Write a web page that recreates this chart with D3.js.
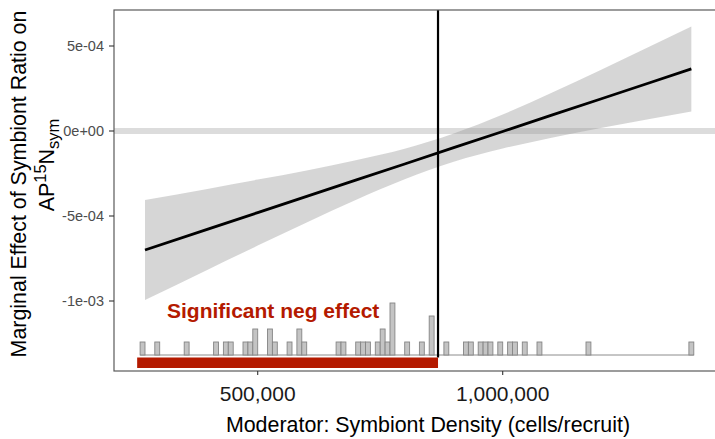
<!DOCTYPE html>
<html>
<head>
<meta charset="utf-8">
<script src="https://cdn.jsdelivr.net/npm/d3@7"></script>
<style>
	body { margin: 0; background: #fff; }
	text { font-family: 'Liberation Sans', Arial, Helvetica, sans-serif; }
</style>
</head>
<body>
<div class="chart"></div>
<script>
/*  ======== Data ============= */
var xTicks = [500000, 1000000];
var yTicks = [5e-4, 0, -5e-4, -1e-3];
var yTickLabels = ['5e-04', '0e+00', '-5e-04', '-1e-03'];

var fitX = [270000, 400000, 500000, 600000, 700000, 800000, 900000, 1000000, 1100000, 1200000, 1300000, 1385000];
var fitY = [-7.00e-4, -5.76e-4, -4.80e-4, -3.85e-4, -2.89e-4, -1.94e-4, -0.98e-4, -0.03e-4, 0.93e-4, 1.88e-4, 2.84e-4, 3.65e-4];
var ciUpper = [-4.06e-4, -3.39e-4, -2.86e-4, -2.32e-4, -1.72e-4, -1.04e-4, -0.15e-4, 0.97e-4, 2.25e-4, 3.59e-4, 4.97e-4, 6.15e-4];
var ciLower = [-9.94e-4, -8.13e-4, -6.74e-4, -5.38e-4, -4.06e-4, -2.84e-4, -1.81e-4, -1.03e-4, -0.39e-4, 0.17e-4, 0.71e-4, 1.15e-4];

var binWidth = 10000;
var binStart = [260000, 290000, 350000, 410000, 430000, 440000, 470000, 480000, 490000, 520000,
				530000, 560000, 580000, 590000, 660000, 670000, 700000, 710000, 720000, 740000,
				750000, 760000, 770000, 800000, 830000, 850000, 880000, 920000, 930000, 950000,
				960000, 970000, 990000, 1010000, 1020000, 1040000, 1070000, 1170000, 1380000];
var binCount = [1, 1, 1, 1, 1, 1, 1, 1, 2, 2,
				1, 1, 2, 1, 1, 1, 1, 1, 1, 1,
				2, 1, 4, 1, 1, 3, 1, 1, 1, 1,
				1, 1, 1, 1, 1, 1, 1, 1, 1];

var threshold = 868000;
var sigRange = [254000, 868000];
var sigLabel = 'Significant neg effect';
var xTitle = 'Moderator: Symbiont Density (cells/recruit)';
var yTitle = 'Marginal Effect of Symbiont Ratio on';
/*  ======== Data ============= */

var width = 715, height = 439;
var pLeft = 114, pTop = 10, pRight = 742, pBottom = 371;
var textColor = '#4d4d4d';
var sigColor = '#b41a00';
var titleSize = 21.4, scriptSize = 16.5;

var svg = d3.select('.chart')
			.append('svg')
			.attr('width', width)
			.attr('height', height);

var x = d3.scaleLinear()
		.domain([(pLeft - 12.7) / 0.00049, (pRight - 12.7) / 0.00049])
		.range([pLeft, pRight]);
var y = d3.scaleLinear()
		.domain([-240 / 170000, 121 / 170000])
		.range([pBottom, pTop]);
var yHist = d3.scaleLinear().domain([0, 4]).range([355, 303]);

var panel = svg.append('g');

// zero reference band
panel.append('line')
	.attr('x1', pLeft).attr('x2', pRight)
	.attr('y1', y(0)).attr('y2', y(0))
	.attr('stroke', '#dcdcdc')
	.attr('stroke-width', 6);

// confidence ribbon
var ribbon = d3.area()
	.x(function(d, i){ return x(fitX[i]); })
	.y0(function(d, i){ return y(ciLower[i]); })
	.y1(function(d, i){ return y(ciUpper[i]); })
	.curve(d3.curveMonotoneX);
panel.append('path')
	.datum(fitX)
	.attr('d', ribbon)
	.attr('fill', '#999')
	.attr('fill-opacity', 0.4);

// fitted line
var line = d3.line()
	.x(function(d, i){ return x(fitX[i]); })
	.y(function(d, i){ return y(fitY[i]); });
panel.append('path')
	.datum(fitX)
	.attr('d', line)
	.attr('fill', 'none')
	.attr('stroke', '#000')
	.attr('stroke-width', 2.8);

// histogram baseline
panel.append('line')
	.attr('x1', x(binStart[0])).attr('x2', x(binStart[binStart.length - 1] + binWidth))
	.attr('y1', yHist(0)).attr('y2', yHist(0))
	.attr('stroke', '#8c8c8c')
	.attr('stroke-width', 1);

panel.selectAll('.bin')
	.data(binStart)
	.enter()
	.append('rect')
	.attr('class', 'bin')
	.attr('x', function(d){ return x(d); })
	.attr('y', function(d, i){ return yHist(binCount[i]); })
	.attr('width', x(binWidth) - x(0))
	.attr('height', function(d, i){ return yHist(0) - yHist(binCount[i]); })
	.attr('fill', '#c4c4c4')
	.attr('stroke', '#858585')
	.attr('stroke-width', 0.9);

// threshold line
panel.append('line')
	.attr('x1', x(threshold)).attr('x2', x(threshold))
	.attr('y1', pTop).attr('y2', 357.5)
	.attr('stroke', '#000')
	.attr('stroke-width', 2.2);

// significance bar
panel.append('rect')
	.attr('x', x(sigRange[0]))
	.attr('y', 357.5)
	.attr('width', x(sigRange[1]) - x(sigRange[0]))
	.attr('height', 10.5)
	.attr('fill', sigColor);

svg.append('text')
	.attr('x', 167)
	.attr('y', 318)
	.attr('font-size', 21)
	.attr('font-weight', 'bold')
	.attr('fill', sigColor)
	.text(sigLabel);

// panel border
svg.append('rect')
	.attr('x', pLeft).attr('y', pTop)
	.attr('width', pRight - pLeft).attr('height', pBottom - pTop)
	.attr('fill', 'none')
	.attr('stroke', '#5a5a5a')
	.attr('stroke-width', 1.2);

// y axis
for(var i = 0; i < yTicks.length; i++){
	svg.append('line')
		.attr('x1', pLeft - 5).attr('x2', pLeft)
		.attr('y1', y(yTicks[i])).attr('y2', y(yTicks[i]))
		.attr('stroke', '#333')
		.attr('stroke-width', 1.1);
	svg.append('text')
		.attr('x', pLeft - 10)
		.attr('y', y(yTicks[i]))
		.attr('dy', '0.35em')
		.attr('font-size', 14.5)
		.attr('text-anchor', 'end')
		.attr('fill', textColor)
		.text(yTickLabels[i]);
}

// x axis
var fmt = d3.format(',');
for(var i = 0; i < xTicks.length; i++){
	svg.append('line')
		.attr('x1', x(xTicks[i])).attr('x2', x(xTicks[i]))
		.attr('y1', pBottom).attr('y2', pBottom + 4)
		.attr('stroke', '#333')
		.attr('stroke-width', 1.1);
	svg.append('text')
		.attr('x', x(xTicks[i]))
		.attr('y', 401)
		.attr('font-size', 21)
		.attr('text-anchor', 'middle')
		.attr('fill', '#1a1a1a')
		.text(fmt(xTicks[i]));
}

svg.append('text')
	.attr('x', 428)
	.attr('y', 432)
	.attr('font-size', titleSize)
	.attr('text-anchor', 'middle')
	.attr('fill', '#000')
	.text(xTitle);

// y title, two lines
svg.append('text')
	.attr('transform', 'translate(26,184) rotate(-90)')
	.attr('font-size', titleSize)
	.attr('text-anchor', 'middle')
	.attr('fill', '#000')
	.text(yTitle);

var t2 = svg.append('text')
	.attr('transform', 'translate(54,165) rotate(-90)')
	.attr('font-size', titleSize)
	.attr('text-anchor', 'middle')
	.attr('fill', '#000');
t2.append('tspan').text('AP');
t2.append('tspan').attr('font-size', scriptSize).attr('dy', -8).text('15');
t2.append('tspan').attr('dy', 8).text('N');
t2.append('tspan').attr('font-size', scriptSize).attr('dy', 5).text('sym');
</script>
</body>
</html>
